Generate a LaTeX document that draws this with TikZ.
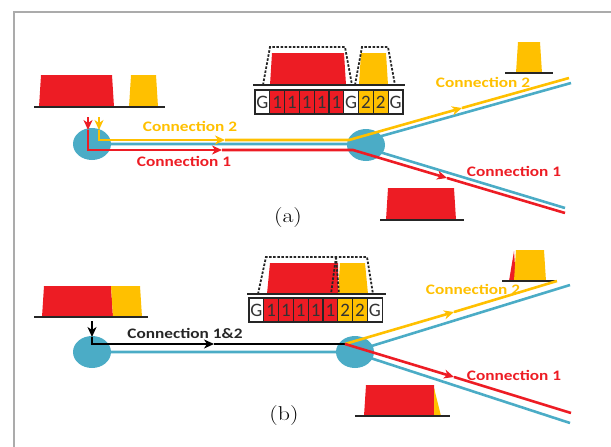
\documentclass[tikz,border=0pt]{standalone}
\usepackage{fontspec}
\newfontfamily\connfont[FakeStretch=1.19]{Carlito}
\newfontfamily\slotfont{Carlito}
\newfontfamily\capfont[FakeStretch=1.19]{Latin Modern Roman}
\usetikzlibrary{shapes.geometric,arrows.meta}
\definecolor{pred}{HTML}{ED1C24}
\definecolor{pyel}{HTML}{FFC000}
\definecolor{pblue}{HTML}{4BACC6}
\definecolor{framegray}{HTML}{ABABAB}

\begin{document}
\begin{tikzpicture}[x=1pt, y=-1pt,
  hub/.style={ellipse, fill=pblue, minimum width=38pt, minimum height=32pt, inner sep=0pt},
  fibre/.style={pblue, line width=2.6pt},
  redpath/.style={pred, line width=2.6pt},
  yelpath/.style={pyel, line width=2.6pt},
  blkpath/.style={black, line width=2.6pt},
  base/.style={black!85, line width=2.2pt},
  env/.style={black!85, line width=1.8pt, dash pattern=on 2.5pt off 1.6pt},
  slot/.style={draw=black!85, line width=1.2pt, minimum width=14.8pt, minimum height=24pt, inner sep=0pt, font=\slotfont\fontsize{19}{19}\selectfont, text=black!80},
  conn/.style={font=\connfont\bfseries\fontsize{14.5}{14.5}\selectfont, inner sep=0pt},
  subcap/.style={font=\capfont\fontsize{20}{20}\selectfont, inner sep=0pt},
  >={Stealth[length=10pt, width=9pt, inset=3pt]}
]
\useasboundingbox (0,0) rectangle (611,447);

%Frame
\draw[framegray, line width=1.5pt] (14,447) -- (14,12) -- (611,12);

%%%%%%%%%% (a)

%Input pulses
\fill[pred] (39,107) -- (41,75) -- (112,75) -- (114,107) -- cycle;
\fill[pyel] (129,107) -- (131,75) -- (156,75) -- (158,107) -- cycle;
\draw[base] (34,107) -- (165,107);

%Frame pulses
\fill[pred] (270,85) -- (272,53) -- (344,53) -- (346,85) -- cycle;
\fill[pyel] (359,85) -- (361,53) -- (386,53) -- (388,85) -- cycle;
\draw[env] (263,85) -- (270,47) -- (345,47) -- (352,85);
\draw[env] (355,85) -- (362,47) -- (388,47) -- (395,85);
\draw[base] (253,85) -- (405,85);

%Slots
\foreach \t/\c [count=\i] in {G/white,1/pred,1/pred,1/pred,1/pred,1/pred,G/white,2/pyel,2/pyel,G/white}
  \node[slot, fill=\c] (sa\i) at ({247.6+\i*14.8},102) {\t};

%Output pulses
\fill[pyel] (516,73) -- (518,42) -- (540,42) -- (542,73) -- cycle;
\draw[base] (505,73) -- (553,73);
\fill[pred] (386,220) -- (388,188) -- (454,188) -- (456,220) -- cycle;
\draw[base] (380,220) -- (464,220);

%Nodes
\node[hub] (hubA1) at (92,144) {};
\node[hub] (hubA2) at (366,145) {};

%Fibre
\coordinate (fa1) at (353,144);
\coordinate (fa2) at (571,83);
\coordinate (fa3) at (565,208);
\draw[fibre] (hubA1.center) -- (fa1) -- (fa2);
\draw[fibre] (fa1) -- (fa3);

%Connection 2
\coordinate (ya0) at (99,117);
\coordinate (ya1) at (99,130);
\coordinate (ya2) at (99,140);
\coordinate (ya3) at (225,140);
\coordinate (ya4) at (349,140);
\coordinate (ya5) at (462,108);
\coordinate (ya6) at (569,78);
\draw[yelpath,->] (ya0) -- (ya1);
\draw[yelpath,->] (ya1) -- (ya2) -- (ya3);
\draw[yelpath,->] (ya3) -- (ya4) -- (ya5);
\draw[yelpath] (ya5) -- (ya6);

%Connection 1
\coordinate (ra0) at (88,117);
\coordinate (ra1) at (88,130);
\coordinate (ra2) at (88,150);
\coordinate (ra3) at (222,150);
\coordinate (ra4) at (353,150);
\coordinate (ra5) at (447,178);
\coordinate (ra6) at (565,213);
\draw[redpath,->] (ra0) -- (ra1);
\draw[redpath,->] (ra1) -- (ra2) -- (ra3);
\draw[redpath,->] (ra3) -- (ra4) -- (ra5);
\draw[redpath] (ra5) -- (ra6);

%Labels
\node[conn, pyel] (la2) at (190,126) {Connection 2};
\node[conn, pred] (la1) at (184,161) {Connection 1};
\node[conn, pyel] (lr2) at (483,82) {Connection 2};
\node[conn, pred] (lr1) at (514,171) {Connection 1};
\node[subcap] (capa) at (288,218) {(a)};

%%%%%%%%%% (b)

%Input pulses
\fill[pred] (42,317) -- (44,286) -- (111,286) -- (113,317) -- cycle;
\fill[pyel] (113,317) -- (111,286) -- (140,286) -- (142,317) -- cycle;
\draw[base] (34,317) -- (148,317);

%Frame pulses
\fill[pred] (267,294) -- (270,263) -- (338,263) -- (338,294) -- cycle;
\fill[pyel] (338,294) -- (340,263) -- (365,263) -- (368,294) -- cycle;
\draw[env] (258,294) -- (266,257) -- (367,257) -- (373,294);
\draw[env] (336,257) -- (331,294);
\draw[env] (336,257) -- (339,294);
\draw[base] (247,294) -- (386,294);

%Slots
\foreach \t/\c [count=\i] in {G/white,1/pred,1/pred,1/pred,1/pred,1/pred,2/pyel,2/pyel,G/white}
  \node[slot, fill=\c] (sb\i) at ({241.6+\i*14.8},310) {\t};

%Output pulses
\fill[pred] (509,281) -- (514,251) -- (516,281) -- cycle;
\fill[pyel] (514,281) -- (516,250) -- (544,250) -- (546,281) -- cycle;
\draw[base] (502,281) -- (557,281);
\fill[pred] (364,416) -- (366,385) -- (434,385) -- (436,416) -- cycle;
\fill[pyel] (434,388) -- (441,416) -- (434,416) -- cycle;
\draw[base] (355,416) -- (450,416);

%Nodes
\node[hub] (hubB1) at (92,352) {};
\node[hub] (hubB2) at (355,352) {};

%Fibre
\coordinate (fb1) at (352,352);
\coordinate (fb2) at (570,285);
\coordinate (fb3) at (570,423);
\draw[fibre] (hubB1.center) -- (fb1) -- (fb2);
\draw[fibre] (fb1) -- (fb3);

%Connection 1&2
\coordinate (kb0) at (92,321);
\coordinate (kb1) at (92,337);
\coordinate (kb2) at (92,344);
\coordinate (kb3) at (214,344);
\coordinate (kb4) at (345,344);
\draw[blkpath,->] (kb0) -- (kb1);
\draw[blkpath,->] (kb1) -- (kb2) -- (kb3);
\draw[blkpath] (kb3) -- (kb4);

%Connection 2
\coordinate (yb1) at (454,312);
\coordinate (yb2) at (557,281);
\draw[yelpath,->] (kb4) -- (yb1);
\draw[yelpath] (yb1) -- (yb2);

%Connection 1
\coordinate (rb1) at (454,377);
\coordinate (rb2) at (571,413);
\draw[redpath,->] (kb4) -- (rb1);
\draw[redpath] (rb1) -- (rb2);

%Labels
\node[conn, black!85] (lb12) at (185,333) {Connection 1\&2};
\node[conn, pyel] (lb2) at (473,289) {Connection 2};
\node[conn, pred] (lb1) at (514,375) {Connection 1};
\node[subcap] (capb) at (284,416) {(b)};

\end{tikzpicture}
\end{document}
